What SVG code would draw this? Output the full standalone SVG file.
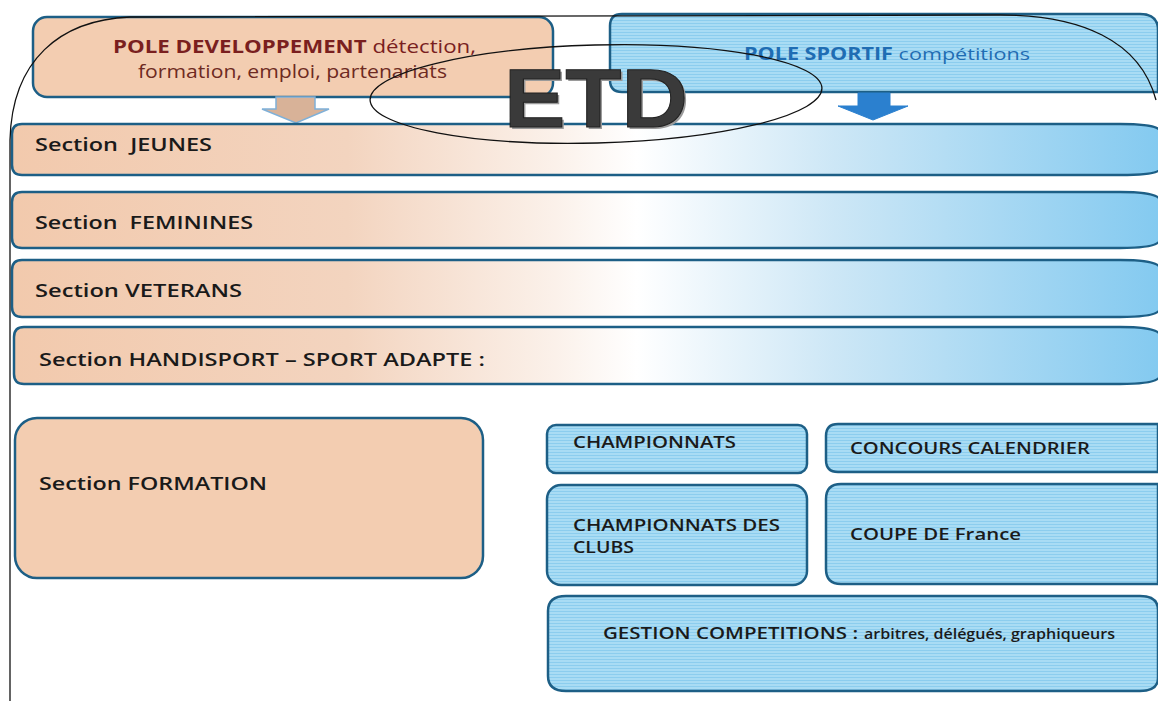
<svg xmlns="http://www.w3.org/2000/svg" width="1158" height="701" viewBox="0 0 1158 701">
<defs>
<linearGradient id="band" gradientUnits="userSpaceOnUse" x1="0" y1="0" x2="1158" y2="0">
<stop offset="0" stop-color="#f2c9ac"/>
<stop offset="0.3" stop-color="#f3d4bf"/>
<stop offset="0.48" stop-color="#fbf1ea"/>
<stop offset="0.55" stop-color="#ffffff"/>
<stop offset="0.72" stop-color="#cde7f6"/>
<stop offset="1" stop-color="#84caf0"/>
</linearGradient>
<pattern id="stripes" patternUnits="userSpaceOnUse" width="8" height="3">
<rect width="8" height="3" fill="#a9dcf4"/>
<rect y="2" width="8" height="1" fill="#8ccdee"/>
</pattern>
<style>
.box{stroke:#1d5f86;stroke-width:2.5}
.peach{fill:#f3cdb1}
.blue{fill:url(#stripes)}
.band{fill:url(#band)}
.t{font-family:"Open Sans",Lato,"Liberation Sans",sans-serif;font-weight:600;fill:#1a1a1a}
.n{font-weight:normal}
.thin{fill:none;stroke:#111;stroke-width:1.3}
.etd{font-family:"Liberation Sans",Arial,sans-serif;font-weight:bold;font-size:84px}
</style>
</defs>
<rect width="1158" height="701" fill="#ffffff"/>

<g id="pole-developpement">
<rect class="box peach" x="33" y="17" width="520" height="80" rx="14"/>
<text class="t" x="113" y="53" font-size="18.5" textLength="363" lengthAdjust="spacingAndGlyphs" style="fill:#7a1f1f"><tspan font-weight="bold">POLE DEVELOPPEMENT</tspan> <tspan class="n">détection,</tspan></text>
<text class="t n" x="138" y="78" font-size="17.5" textLength="309" lengthAdjust="spacingAndGlyphs" style="fill:#6e2a22">formation, emploi, partenariats</text>
</g>

<g id="pole-sportif">
<path class="box blue" d="M622,14 L1140,14 Q1158,14 1158,30 L1158,92 L622,92 Q610,92 610,80 L610,26 Q610,14 622,14 Z"/>
<text class="t" x="744" y="60" font-size="17" textLength="286" lengthAdjust="spacingAndGlyphs" style="fill:#1f6db3"><tspan font-weight="bold">POLE SPORTIF</tspan> <tspan class="n">compétitions</tspan></text>
</g>

<g id="connectors">
<path d="M276,97 L315,97 L315,109 L329,109 L296,123 L262,109 L276,109 Z" fill="#d8b298" stroke="#7fb0d8" stroke-width="1.5"/>
<path d="M858,93 L890,93 L890,106 L908,106 L873,120 L838,106 L858,106 Z" fill="#2b80cf" stroke="#2b80cf" stroke-width="1"/>
</g>

<g id="section-jeunes">
<path class="box band" d="M22,124 L1120,124 Q1158,124 1160,131 L1160,169 Q1158,175 1120,175 L22,175 Q12,175 12,165 L12,134 Q12,124 22,124 Z"/>
<text class="t" x="35" y="151" font-size="18" textLength="177" lengthAdjust="spacingAndGlyphs">Section&#160; JEUNES</text>
</g>
<g id="section-feminines">
<path class="box band" d="M22,192 L1120,192 Q1158,192 1160,200 L1160,240 Q1158,248 1120,248 L22,248 Q12,248 12,238 L12,202 Q12,192 22,192 Z"/>
<text class="t" x="35" y="229" font-size="18" textLength="218" lengthAdjust="spacingAndGlyphs">Section&#160; FEMININES</text>
</g>
<g id="section-veterans">
<path class="box band" d="M22,260 L1120,260 Q1158,260 1160,268 L1160,309 Q1158,317 1120,317 L22,317 Q12,317 12,307 L12,270 Q12,260 22,260 Z"/>
<text class="t" x="35" y="297" font-size="18" textLength="207" lengthAdjust="spacingAndGlyphs">Section VETERANS</text>
</g>
<g id="section-handisport">
<path class="box band" d="M24,327 L1120,327 Q1158,327 1160,335 L1160,376 Q1158,384 1120,384 L24,384 Q14,384 14,374 L14,337 Q14,327 24,327 Z"/>
<text class="t" x="39" y="366" font-size="18" textLength="446" lengthAdjust="spacingAndGlyphs">Section HANDISPORT – SPORT ADAPTE :</text>
</g>

<g id="section-formation">
<rect class="box peach" x="15" y="418" width="468" height="160" rx="22"/>
<text class="t" x="39" y="490" font-size="18" textLength="228" lengthAdjust="spacingAndGlyphs">Section FORMATION</text>
</g>

<g id="championnats">
<rect class="box blue" x="547" y="425" width="260" height="48" rx="9"/>
<text class="t" x="573" y="448" font-size="17" textLength="163" lengthAdjust="spacingAndGlyphs">CHAMPIONNATS</text>
</g>
<g id="concours-calendrier">
<path class="box blue" d="M838,424 L1158,424 L1158,472 L838,472 Q826,472 826,460 L826,436 Q826,424 838,424 Z"/>
<text class="t" x="850" y="454" font-size="17" textLength="240" lengthAdjust="spacingAndGlyphs">CONCOURS CALENDRIER</text>
</g>
<g id="championnats-clubs">
<rect class="box blue" x="547" y="485" width="260" height="100" rx="14"/>
<text class="t" x="573" y="531" font-size="17" textLength="207" lengthAdjust="spacingAndGlyphs">CHAMPIONNATS DES</text>
<text class="t" x="573" y="553" font-size="17" textLength="61" lengthAdjust="spacingAndGlyphs">CLUBS</text>
</g>
<g id="coupe-de-france">
<path class="box blue" d="M841,484 L1158,484 L1158,584 L841,584 Q826,584 826,569 L826,499 Q826,484 841,484 Z"/>
<text class="t" x="850" y="540" font-size="17" textLength="171" lengthAdjust="spacingAndGlyphs">COUPE DE France</text>
</g>
<g id="gestion-competitions">
<path class="box blue" d="M566,596 L1140,596 Q1158,596 1158,610 L1158,678 Q1158,691 1140,691 L566,691 Q548,691 548,676 L548,611 Q548,596 566,596 Z"/>
<text class="t" x="603" y="639" font-size="17" textLength="255" lengthAdjust="spacingAndGlyphs">GESTION COMPETITIONS :</text>
<text class="t" x="864" y="639" font-size="14" textLength="251" lengthAdjust="spacingAndGlyphs">arbitres, délégués, graphiqueurs</text>
</g>

<g id="frame">
<path class="thin" d="M10,701 L10,140 C12,60 60,20 130,17 L1000,15 C1080,15 1140,40 1156,100"/>
</g>

<g id="etd">
<ellipse class="thin" cx="596" cy="94" rx="226" ry="49" transform="rotate(-1.5 596 94)"/>
<text class="etd" x="506" y="129" fill="#9a9a9a" textLength="184" lengthAdjust="spacingAndGlyphs">ETD</text>
<text class="etd" x="504" y="127" fill="#3a3a3a" stroke="#222" stroke-width="1" textLength="184" lengthAdjust="spacingAndGlyphs">ETD</text>
</g>
</svg>
